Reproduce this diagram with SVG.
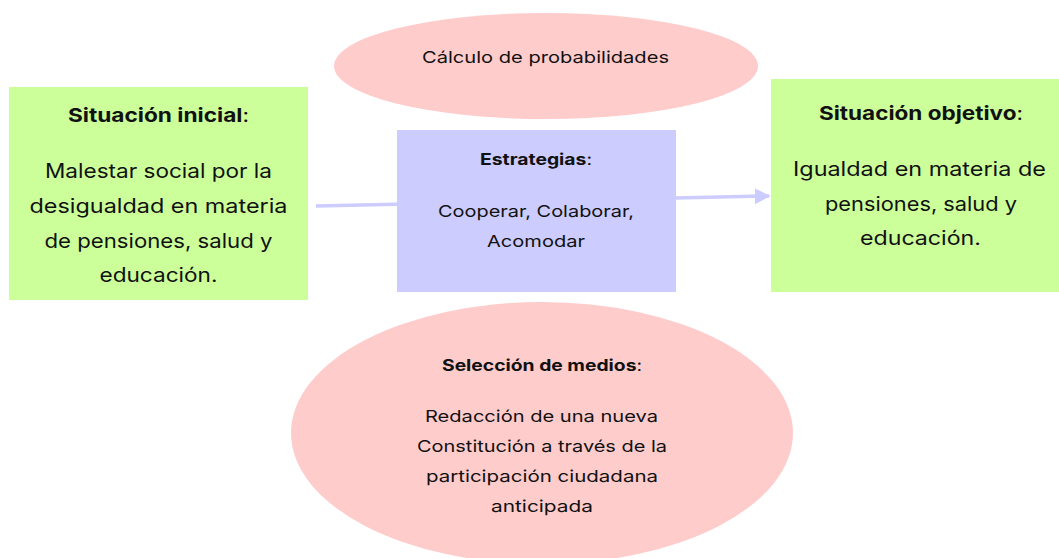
<svg xmlns="http://www.w3.org/2000/svg" width="1059" height="558" viewBox="0 0 1059 558">
<style>
text{font-family:Inter,"Open Sans","DejaVu Sans",sans-serif;fill:#111;text-anchor:middle}
.big{font-size:20px}
.mid{font-size:16.5px}
.tb{font-size:19px}
.ts{font-size:16px}
.b{font-weight:700}
.green{fill:#ccff99}
.lav{fill:#ccccff}
.pink{fill:#ffcccc}
.conn{stroke:#ccccff;stroke-width:3.5;fill:none}
</style>
<defs>
<marker id="arr" viewBox="0 0 10 10" refX="9" refY="5" markerWidth="4.5" markerHeight="4.5" orient="auto" markerUnits="strokeWidth">
<path d="M0,0 L10,5 L0,10 z" fill="#ccccff"/>
</marker>
</defs>
<rect width="1059" height="558" fill="#ffffff"/>
<g id="connectors">
<line class="conn" x1="316" y1="206" x2="769" y2="196" marker-end="url(#arr)"/>
</g>
<g id="calculo">
<ellipse class="pink" cx="546" cy="66" rx="212" ry="53"/>
<text class="mid" x="545.5" y="63" textLength="247" lengthAdjust="spacingAndGlyphs">Cálculo de probabilidades</text>
</g>
<g id="situacion-inicial">
<rect class="green" x="9" y="87" width="299" height="213"/>
<text class="tb" x="158.5" y="122" textLength="181" lengthAdjust="spacingAndGlyphs"><tspan class="b">Situación inicial</tspan>:</text>
<text class="big" x="158.5" y="178" textLength="227" lengthAdjust="spacingAndGlyphs">Malestar social por la</text>
<text class="big" x="158.5" y="213" textLength="258" lengthAdjust="spacingAndGlyphs">desigualdad en materia</text>
<text class="big" x="158.5" y="248" textLength="228" lengthAdjust="spacingAndGlyphs">de pensiones, salud y</text>
<text class="big" x="158.5" y="282" textLength="118" lengthAdjust="spacingAndGlyphs">educación.</text>
</g>
<g id="estrategias">
<rect class="lav" x="397" y="130" width="279" height="162"/>
<text class="ts" x="536" y="165" textLength="112" lengthAdjust="spacingAndGlyphs"><tspan class="b">Estrategias</tspan>:</text>
<text class="mid" x="536" y="217" textLength="196" lengthAdjust="spacingAndGlyphs">Cooperar, Colaborar,</text>
<text class="mid" x="536" y="247" textLength="98" lengthAdjust="spacingAndGlyphs">Acomodar</text>
</g>
<g id="situacion-objetivo">
<rect class="green" x="771" y="79" width="288" height="213"/>
<text class="tb" x="921" y="120" textLength="204" lengthAdjust="spacingAndGlyphs"><tspan class="b">Situación objetivo</tspan>:</text>
<text class="big" x="919.5" y="176" textLength="253" lengthAdjust="spacingAndGlyphs">Igualdad en materia de</text>
<text class="big" x="921" y="211" textLength="192" lengthAdjust="spacingAndGlyphs">pensiones, salud y</text>
<text class="big" x="920.5" y="245" textLength="121" lengthAdjust="spacingAndGlyphs">educación.</text>
</g>
<g id="seleccion-medios">
<ellipse class="pink" cx="542" cy="433" rx="251" ry="131"/>
<text class="ts" x="542" y="371" textLength="200" lengthAdjust="spacingAndGlyphs"><tspan class="b">Selección de medios</tspan>:</text>
<text class="mid" x="541.5" y="422" textLength="233" lengthAdjust="spacingAndGlyphs">Redacción de una nueva</text>
<text class="mid" x="542" y="452" textLength="250" lengthAdjust="spacingAndGlyphs">Constitución a través de la</text>
<text class="mid" x="542" y="482" textLength="232" lengthAdjust="spacingAndGlyphs">participación ciudadana</text>
<text class="mid" x="542" y="512" textLength="102" lengthAdjust="spacingAndGlyphs">anticipada</text>
</g>
</svg>
